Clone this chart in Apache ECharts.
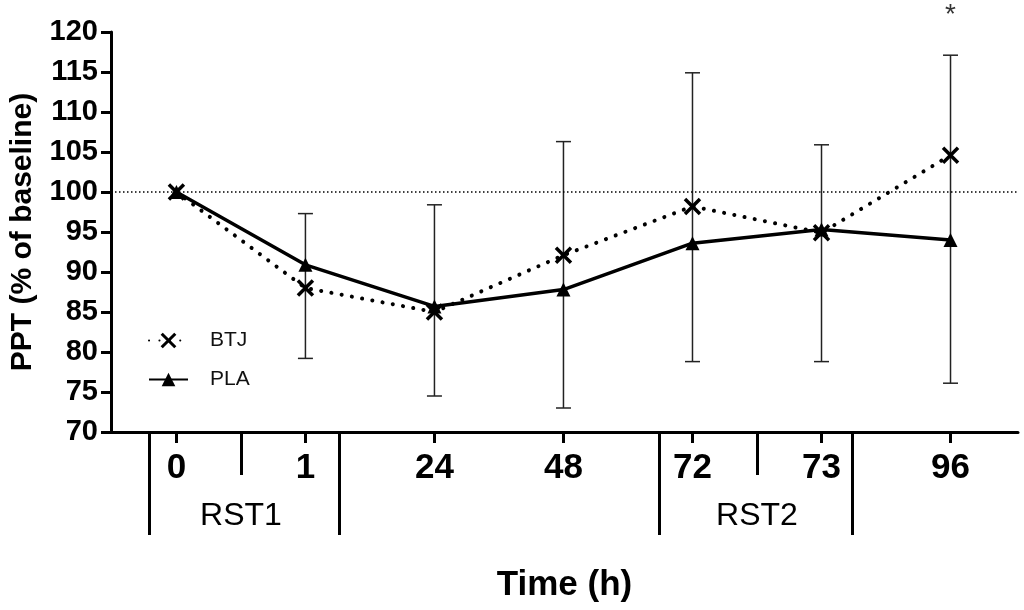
<!DOCTYPE html>
<html>
<head>
<meta charset="utf-8">
<script src="https://cdn.jsdelivr.net/npm/echarts@6/dist/echarts.min.js"></script>
<style>
  html, body { margin: 0; padding: 0; background: #fff; }
  #chart { width: 1024px; height: 610px; }
</style>
</head>
<body>
<div id="chart"></div>
<script>
// time points (equally spaced on the axis)
const timeLabels = ['0', '1', '24', '48', '72', '73', '96'];
const xPos = [0, 1, 2, 3, 4, 5, 6];

// mean PPT, % of baseline
const btj = [100, 88.0, 85.0, 92.1, 98.2, 94.9, 104.6];
const pla = [100, 90.9, 85.7, 87.8, 93.6, 95.3, 94.0];

// error bar extents per time point
const errLow = [null, 79.2, 74.5, 73.0, 78.8, 78.8, 76.1];
const errHigh = [null, 97.3, 98.4, 106.3, 114.9, 105.9, 117.1];

// grouped axis: RST sessions
const groupNames = ['RST1', 'RST2'];
const groupCenters = [0.5, 4.5];
const groupEdges = [-0.21, 1.26, 3.74, 5.24];

// significance marks
const sigIndex = [6];

const yTicks = {min: 70, max: 120, step: 5};

const FONT = 'Liberation Sans, Arial, sans-serif';
const xMarker = 'path://M0,0L10,10M10,0L0,10';

const chart = echarts.init(document.getElementById('chart'));

const errData = xPos
    .map((x, i) => [x, errLow[i], errHigh[i]])
    .filter(d => d[1] !== null);

const baseX = {
    type: 'value',
    min: -0.507,
    max: 6.523,
    position: 'bottom',
    splitLine: {show: false}
};

const option = {
    animation: false,
    backgroundColor: '#fff',
    grid: {left: 110, right: 6, top: 32, bottom: 178},
    legend: {
        data: [{name: 'BTJ', itemStyle: {borderWidth: 3}}, {name: 'PLA'}],
        orient: 'vertical',
        left: 148,
        top: 330,
        padding: 0,
        itemWidth: 39,
        itemHeight: 17,
        itemGap: 18,
        textStyle: {fontFamily: FONT, fontSize: 21, color: '#111', padding: [0, 0, 0, 17]}
    },
    xAxis: [
        {
            ...baseX,
            name: 'Time (h)',
            nameLocation: 'middle',
            nameGap: 136,
            nameTextStyle: {fontFamily: FONT, fontSize: 35, fontWeight: 'bold', color: '#000'},
            axisLine: {show: true, onZero: false, lineStyle: {color: '#000', width: 3}},
            axisTick: {show: true, customValues: xPos, length: 11, lineStyle: {color: '#000', width: 3}},
            axisLabel: {
                customValues: xPos,
                formatter: v => timeLabels[xPos.indexOf(v)],
                fontFamily: FONT, fontSize: 35, fontWeight: 'bold', color: '#000', margin: 19
            }
        },
        {
            ...baseX,
            axisLine: {show: false, onZero: false},
            axisTick: {show: true, customValues: groupCenters, length: 43, lineStyle: {color: '#000', width: 3}},
            axisLabel: {
                customValues: groupCenters,
                formatter: v => groupNames[groupCenters.indexOf(v)],
                fontFamily: FONT, fontSize: 32, color: '#000', margin: 68
            }
        },
        {
            ...baseX,
            axisLine: {show: false, onZero: false},
            axisTick: {show: true, customValues: groupEdges, length: 103, lineStyle: {color: '#000', width: 3}},
            axisLabel: {show: false}
        }
    ],
    yAxis: {
        type: 'value',
        min: yTicks.min,
        max: yTicks.max,
        interval: yTicks.step,
        name: 'PPT (% of baseline)',
        nameLocation: 'middle',
        nameGap: 73,
        nameTextStyle: {fontFamily: FONT, fontSize: 30, fontWeight: 'bold', color: '#000'},
        axisLine: {show: true, onZero: false, lineStyle: {color: '#000', width: 3}},
        axisTick: {show: true, length: 10, lineStyle: {color: '#000', width: 3}},
        axisLabel: {fontFamily: FONT, fontSize: 29, fontWeight: 'bold', color: '#000', margin: 13},
        splitLine: {show: false}
    },
    series: [
        {
            name: 'err',
            type: 'custom',
            z: 1,
            data: errData,
            renderItem: (params, api) => {
                const x = api.value(0);
                const top = api.coord([x, api.value(2)]);
                const bot = api.coord([x, api.value(1)]);
                const w = 7.5;
                const st = {stroke: '#222', lineWidth: 1.5};
                return {
                    type: 'group',
                    children: [
                        {type: 'line', shape: {x1: top[0], y1: top[1], x2: bot[0], y2: bot[1]}, style: st},
                        {type: 'line', shape: {x1: top[0] - w, y1: top[1], x2: top[0] + w, y2: top[1]}, style: st},
                        {type: 'line', shape: {x1: bot[0] - w, y1: bot[1], x2: bot[0] + w, y2: bot[1]}, style: st}
                    ]
                };
            }
        },
        {
            name: 'PLA',
            type: 'line',
            z: 3,
            data: xPos.map((x, i) => [x, pla[i]]),
            symbol: 'triangle',
            symbolSize: 14,
            itemStyle: {color: '#000'},
            lineStyle: {color: '#000', width: 3.5},
            markLine: {
                silent: true,
                symbol: 'none',
                label: {show: false},
                lineStyle: {color: '#000', width: 1.5, type: [1.5, 2.5]},
                data: [{yAxis: 100}]
            }
        },
        {
            name: 'BTJ',
            type: 'line',
            z: 4,
            data: xPos.map((x, i) => [x, btj[i]]),
            symbol: xMarker,
            symbolSize: 15,
            itemStyle: {color: '#000', borderColor: '#000', borderWidth: 3.5},
            lineStyle: {color: '#000', width: 4, type: [0.1, 10.3], cap: 'round'}
        },
        {
            name: 'sig',
            type: 'scatter',
            clip: false,
            z: 5,
            data: sigIndex.map(i => [xPos[i], errHigh[i]]),
            symbolSize: 1,
            itemStyle: {color: 'rgba(0,0,0,0)'},
            label: {
                show: true,
                position: 'top',
                distance: 25,
                formatter: '*',
                fontFamily: FONT,
                fontSize: 28,
                color: '#000'
            }
        }
    ]
};

chart.setOption(option);
</script>
</body>
</html>
